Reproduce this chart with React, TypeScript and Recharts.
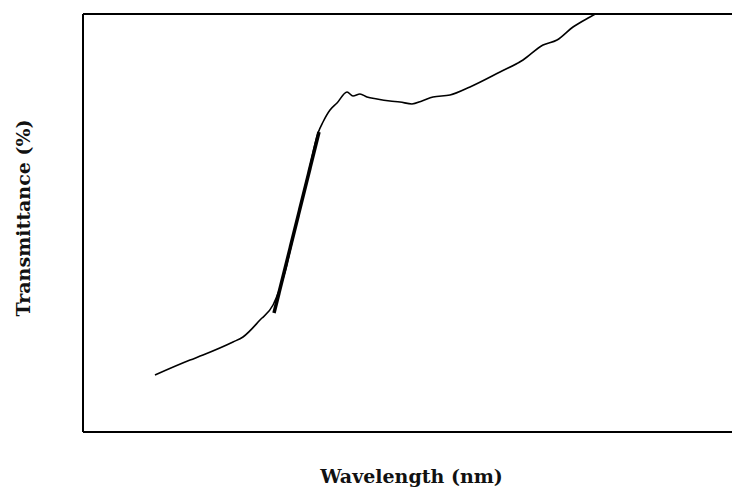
import React from "react";
import { LineChart, Line, XAxis, YAxis, ReferenceLine } from "recharts";

// Wavelength positions (relative units, 0–100 across the plot) and transmittance (%)
const wavelength = [
  11.09, 16.49, 18.49, 23.11, 24.65, 27.27, 29.28, 31.12, 32.97, 34.67, 36.21,
  36.98, 38.06, 39.14, 40.68, 41.6, 42.68, 43.76, 45.3, 47.3, 48.84, 50.69,
  52.23, 53.93, 56.55, 59.63, 64.25, 67.8, 70.88, 73.04, 75.5, 78.12, 79.51,
];
const transmittance = [
  13.64, 17.22, 18.42, 21.53, 22.73, 26.79, 30.38, 38.28, 50.72, 61.48, 71.53,
  74.16, 77.03, 78.71, 81.34, 80.38, 80.86, 80.14, 79.67, 79.19, 78.95, 78.47,
  79.19, 80.14, 80.62, 82.54, 86.12, 88.99, 92.58, 93.78, 96.89, 99.28, 100.48,
];

// Tangent drawn on the steep absorption edge
const tangentWavelength = [29.43, 36.36];
const tangentTransmittance = [28.47, 71.77];

const curve = wavelength.map((w, i) => ({ w, t: transmittance[i] }));
const tangent = tangentWavelength.map((w, i) => ({ w, t: tangentTransmittance[i] }));

const FONT = "'DejaVu Serif', serif";

export default function App() {
  return (
    <div style={{ position: "fixed", top: 8, left: 8, background: "#fff" }}>
      <LineChart
        width={724}
        height={481}
        margin={{ top: 6, right: 0, bottom: 0, left: 0 }}
      >
        <XAxis
          dataKey="w"
          type="number"
          domain={[0, 100]}
          tick={false}
          tickLine={false}
          axisLine={{ stroke: "#000", strokeWidth: 2 }}
          height={57}
          label={{
            value: "Wavelength (nm)",
            position: "insideBottom",
            offset: 6,
            dx: 4,
            style: { fontFamily: FONT, fontWeight: "bold", fontSize: 19, fill: "#111" },
          }}
        />
        <YAxis
          dataKey="t"
          type="number"
          domain={[0, 100]}
          allowDataOverflow
          tick={false}
          tickLine={false}
          axisLine={{ stroke: "#000", strokeWidth: 2 }}
          width={75}
          label={{
            value: "Transmittance (%)",
            angle: -90,
            position: "insideLeft",
            offset: 15,
            dy: -5,
            style: { fontFamily: FONT, fontWeight: "bold", fontSize: 19, fill: "#111", textAnchor: "middle" },
          }}
        />
        <ReferenceLine y={100} stroke="#000" strokeWidth={2} />
        <Line
          data={curve}
          dataKey="t"
          type="monotone"
          stroke="#000"
          strokeWidth={1.6}
          dot={false}
          isAnimationActive={false}
        />
        <Line
          data={tangent}
          dataKey="t"
          type="linear"
          stroke="#000"
          strokeWidth={3.5}
          dot={false}
          isAnimationActive={false}
        />
      </LineChart>
    </div>
  );
}
